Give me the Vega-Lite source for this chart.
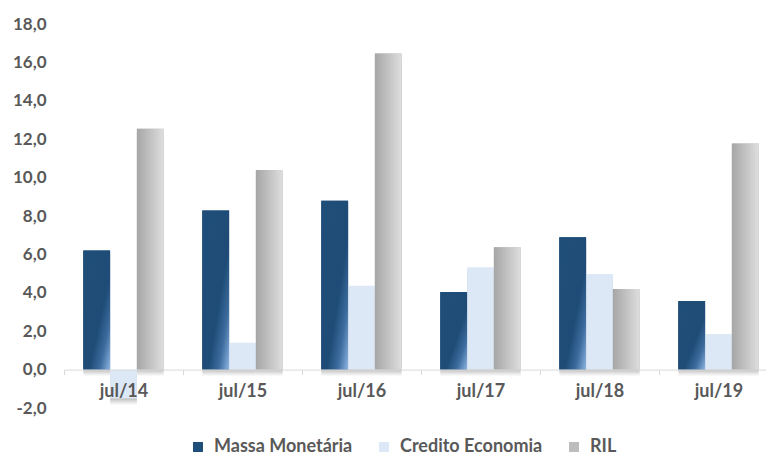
{
  "$schema": "https://vega.github.io/schema/vega-lite/v6.json",
  "width": 702,
  "height": 384,
  "autosize": "none",
  "padding": {"left": 64, "top": 24, "right": 0, "bottom": 50},
  "background": "white",
  "config": {"view": {"stroke": null}, "font": "Lato"},
  "data": {
    "values": [
      {"periodo": "jul/14", "serie": "Massa Monetária", "valor": 6.2},
      {"periodo": "jul/14", "serie": "Credito Economia", "valor": -1.5},
      {"periodo": "jul/14", "serie": "RIL", "valor": 12.55},
      {"periodo": "jul/15", "serie": "Massa Monetária", "valor": 8.28},
      {"periodo": "jul/15", "serie": "Credito Economia", "valor": 1.4},
      {"periodo": "jul/15", "serie": "RIL", "valor": 10.4},
      {"periodo": "jul/16", "serie": "Massa Monetária", "valor": 8.8},
      {"periodo": "jul/16", "serie": "Credito Economia", "valor": 4.37},
      {"periodo": "jul/16", "serie": "RIL", "valor": 16.47},
      {"periodo": "jul/17", "serie": "Massa Monetária", "valor": 4.04},
      {"periodo": "jul/17", "serie": "Credito Economia", "valor": 5.33},
      {"periodo": "jul/17", "serie": "RIL", "valor": 6.37},
      {"periodo": "jul/18", "serie": "Massa Monetária", "valor": 6.89},
      {"periodo": "jul/18", "serie": "Credito Economia", "valor": 4.98},
      {"periodo": "jul/18", "serie": "RIL", "valor": 4.2},
      {"periodo": "jul/19", "serie": "Massa Monetária", "valor": 3.57},
      {"periodo": "jul/19", "serie": "Credito Economia", "valor": 1.85},
      {"periodo": "jul/19", "serie": "RIL", "valor": 11.78}
    ]
  },
  "encoding": {
    "x": {
      "field": "periodo",
      "type": "nominal",
      "sort": ["jul/14", "jul/15", "jul/16", "jul/17", "jul/18", "jul/19"],
      "scale": {"range": [0, 714], "paddingInner": 0, "paddingOuter": 0},
      "axis": {
        "title": null,
        "labelAngle": 0,
        "offset": -38.4,
        "zindex": 1,
        "domainColor": "#D9D9D9",
        "domainWidth": 1,
        "tickColor": "#D9D9D9",
        "tickSize": 5,
        "tickBand": "extent",
        "labelFont": "Lato",
        "labelFontWeight": "bold",
        "labelFontSize": 18,
        "labelColor": "#595959",
        "labelPadding": 8,
        "grid": false
      }
    },
    "xOffset": {
      "field": "serie",
      "type": "nominal",
      "sort": ["Massa Monetária", "Credito Economia", "RIL"],
      "scale": {"domain": ["Massa Monetária", "Credito Economia", "RIL"], "paddingInner": 0, "paddingOuter": 0.72}
    },
    "y": {
      "field": "valor",
      "type": "quantitative",
      "scale": {"domain": [-2, 18], "nice": false, "zero": false},
      "axis": {
        "title": null,
        "values": [-2, 0, 2, 4, 6, 8, 10, 12, 14, 16, 18],
        "labelExpr": "replace(replace(format(datum.value, '.1f'), '.', ','), '\u2212', '-')",
        "ticks": false,
        "domain": false,
        "grid": false,
        "labelFont": "Lato",
        "labelFontWeight": "bold",
        "labelFontSize": 17,
        "labelColor": "#595959",
        "labelPadding": 18
      }
    }
  },
  "layer": [
    {"mark": {"type": "bar", "fill": "#000000", "opacity": 0.06, "xOffset": 6, "yOffset": 6}},
    {"mark": {"type": "bar", "fill": "#000000", "opacity": 0.08, "xOffset": 4, "yOffset": 4}},
    {"mark": {"type": "bar", "fill": "#000000", "opacity": 0.1, "xOffset": 2, "yOffset": 2}},
    {
      "mark": {"type": "bar"},
      "encoding": {
        "color": {
          "field": "serie",
          "type": "nominal",
          "scale": {"domain": ["Massa Monetária", "Credito Economia", "RIL"], "range": ["#1F4E79", "#DCE8F5", "#BDBDBD"]},
          "legend": {
            "title": null,
            "orient": "none",
            "direction": "horizontal",
            "legendX": 125,
            "legendY": 414,
            "padding": 0,
            "symbolType": "square",
            "symbolSize": 100,
            "symbolStrokeWidth": 0,
            "labelFont": "Lato",
            "labelFontWeight": "bold",
            "labelFontSize": 18,
            "labelColor": "#595959",
            "labelOffset": 7,
            "columnPadding": 22
          }
        }
      }
    },
    {
      "transform": [{"filter": "datum.serie === 'Massa Monetária'"}],
      "mark": {
        "type": "bar",
        "fill": {
          "gradient": "linear",
          "x1": 0, "y1": 0, "x2": 1, "y2": 1,
          "stops": [
            {"offset": 0, "color": "#1F4E79"},
            {"offset": 0.6, "color": "#1E4C77"},
            {"offset": 0.8, "color": "#3D6C9E"},
            {"offset": 1, "color": "#8DB5E2"}
          ]
        }
      }
    },
    {
      "transform": [{"filter": "datum.serie === 'RIL'"}],
      "mark": {
        "type": "bar",
        "fill": {
          "gradient": "linear",
          "x1": 0, "y1": 0, "x2": 1, "y2": 0,
          "stops": [
            {"offset": 0, "color": "#A6A6A6"},
            {"offset": 1, "color": "#DEDEDE"}
          ]
        }
      }
    }
  ]
}
